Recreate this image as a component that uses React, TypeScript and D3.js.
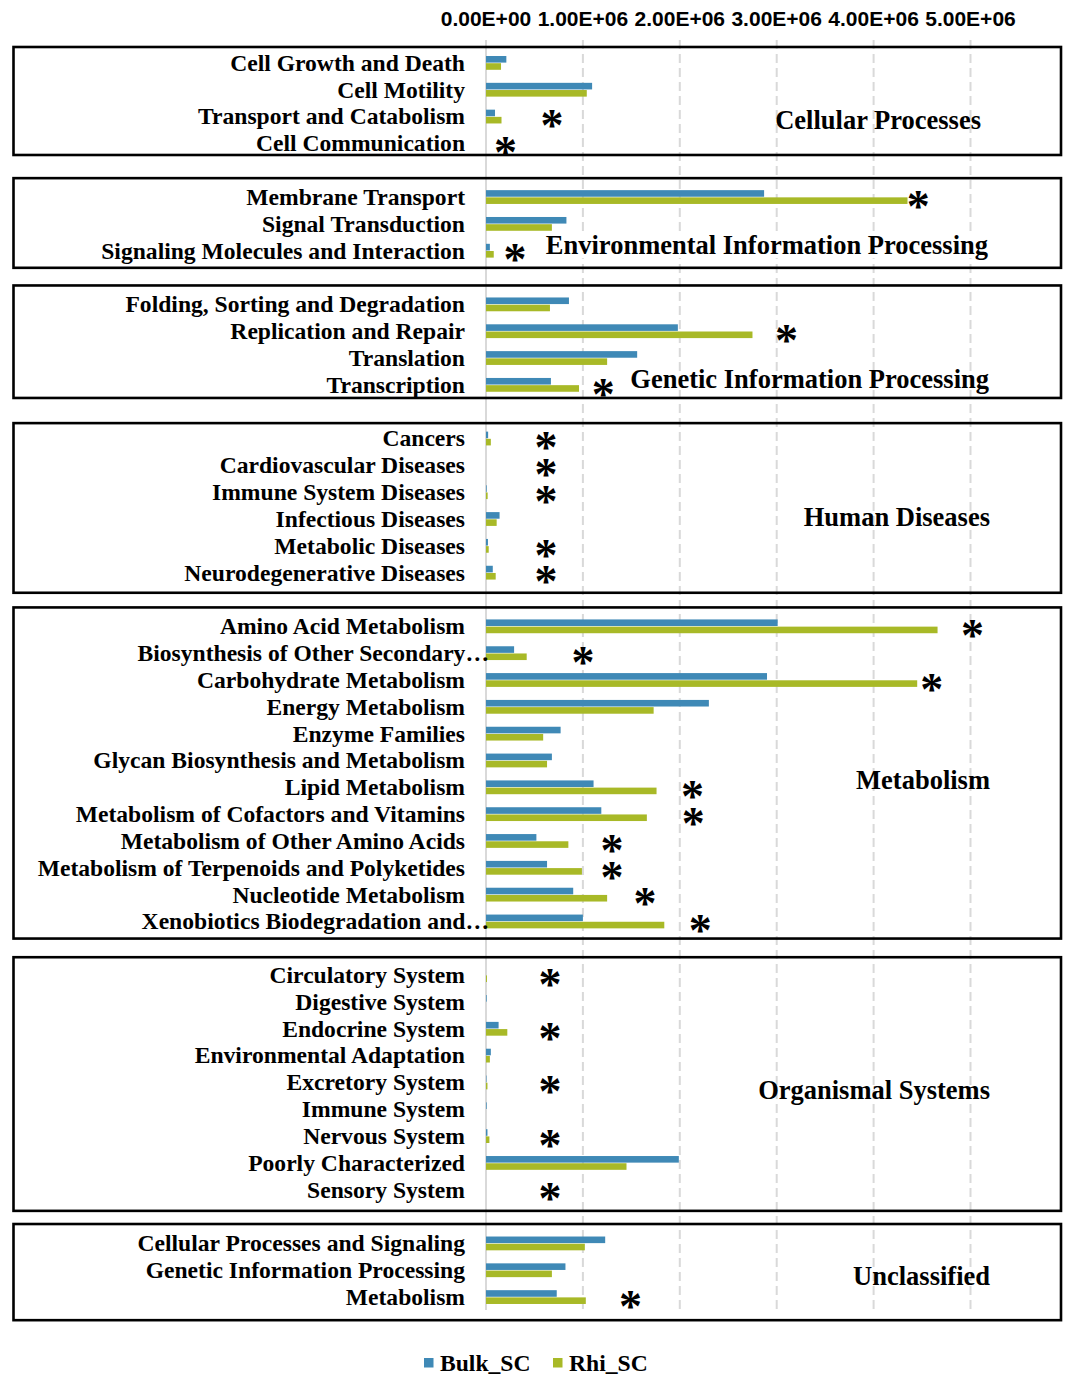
import React, { useEffect, useRef } from "react";
import * as d3 from "d3";

// Pathway groups and their categories (top to bottom)
const groupNames = [
  "Cellular Processes",
  "Environmental Information Processing",
  "Genetic Information Processing",
  "Human Diseases",
  "Metabolism",
  "Organismal Systems",
  "Unclassified",
];

const cellularCats = ["Cell Growth and Death", "Cell Motility", "Transport and Catabolism", "Cell Communication"];
const environmentalCats = ["Membrane Transport", "Signal Transduction", "Signaling Molecules and Interaction"];
const geneticCats = ["Folding, Sorting and Degradation", "Replication and Repair", "Translation", "Transcription"];
const humanCats = [
  "Cancers",
  "Cardiovascular Diseases",
  "Immune System Diseases",
  "Infectious Diseases",
  "Metabolic Diseases",
  "Neurodegenerative Diseases",
];
const metabolismCats = [
  "Amino Acid Metabolism",
  "Biosynthesis of Other Secondary Metabolites",
  "Carbohydrate Metabolism",
  "Energy Metabolism",
  "Enzyme Families",
  "Glycan Biosynthesis and Metabolism",
  "Lipid Metabolism",
  "Metabolism of Cofactors and Vitamins",
  "Metabolism of Other Amino Acids",
  "Metabolism of Terpenoids and Polyketides",
  "Nucleotide Metabolism",
  "Xenobiotics Biodegradation and Metabolism",
];
const organismalCats = [
  "Circulatory System",
  "Digestive System",
  "Endocrine System",
  "Environmental Adaptation",
  "Excretory System",
  "Immune System",
  "Nervous System",
  "Poorly Characterized",
  "Sensory System",
];
const unclassifiedCats = ["Cellular Processes and Signaling", "Genetic Information Processing", "Metabolism"];

const groupCats = [cellularCats, environmentalCats, geneticCats, humanCats, metabolismCats, organismalCats, unclassifiedCats];

// Series values (gene abundance), same order as the categories above
const bulkValues = [
  [210000, 1095000, 93000, 0],
  [2870000, 830000, 40000],
  [856000, 1980000, 1560000, 670000],
  [22000, 0, 7000, 140000, 20000, 70000],
  [3010000, 290000, 2900000, 2300000, 770000, 680000, 1110000, 1190000, 520000, 630000, 900000, 1000000],
  [0, 7000, 130000, 50000, 5000, 7000, 15000, 1990000, 0],
  [1230000, 820000, 730000],
];
const rhiValues = [
  [155000, 1040000, 160000, 0],
  [4350000, 680000, 80000],
  [660000, 2750000, 1250000, 960000],
  [50000, 0, 17000, 110000, 28000, 100000],
  [4660000, 420000, 4450000, 1730000, 590000, 630000, 1760000, 1660000, 850000, 990000, 1250000, 1840000],
  [10000, 0, 220000, 40000, 15000, 0, 35000, 1450000, 0],
  [1020000, 680000, 1030000],
];

// Significance marks: [group index, category, x position in axis units]
const starMarks: [number, string, number][] = [
  [0, "Transport and Catabolism", 680000],
  [0, "Cell Communication", 200000],
  [1, "Membrane Transport", 4460000],
  [1, "Signaling Molecules and Interaction", 300000],
  [2, "Replication and Repair", 3100000],
  [2, "Transcription", 1210000],
  [3, "Cancers", 620000],
  [3, "Cardiovascular Diseases", 620000],
  [3, "Immune System Diseases", 620000],
  [3, "Metabolic Diseases", 620000],
  [3, "Neurodegenerative Diseases", 620000],
  [4, "Amino Acid Metabolism", 5020000],
  [4, "Biosynthesis of Other Secondary Metabolites", 1000000],
  [4, "Carbohydrate Metabolism", 4600000],
  [4, "Lipid Metabolism", 2130000],
  [4, "Metabolism of Cofactors and Vitamins", 2140000],
  [4, "Metabolism of Other Amino Acids", 1300000],
  [4, "Metabolism of Terpenoids and Polyketides", 1300000],
  [4, "Nucleotide Metabolism", 1640000],
  [4, "Xenobiotics Biodegradation and Metabolism", 2210000],
  [5, "Circulatory System", 660000],
  [5, "Endocrine System", 660000],
  [5, "Excretory System", 660000],
  [5, "Nervous System", 660000],
  [5, "Sensory System", 660000],
  [6, "Metabolism", 1490000],
];

const xTicks = [0, 1000000, 2000000, 3000000, 4000000, 5000000];
const seriesNames = ["Bulk_SC", "Rhi_SC"];

const BLUE = "#3f89b6";
const GREEN = "#a8b927";
const SERIF = "'Liberation Serif', 'Times New Roman', serif";

const App: React.FC = () => {
  const ref = useRef<SVGSVGElement>(null);

  useEffect(() => {
    if (!ref.current) return;
    const svg = d3.select(ref.current);
    svg.selectAll("*").remove();

    // one slot per category, one blank slot between groups
    const slots: string[] = [];
    groupCats.forEach((cats, gi) => {
      cats.forEach((c) => slots.push(`${gi}|${c}`));
      if (gi < groupCats.length - 1) slots.push(`gap${gi}`);
    });

    const step = 26.83;
    const y = d3
      .scaleBand<string>()
      .domain(slots)
      .range([63 - step / 2, 63 - step / 2 + step * slots.length])
      .padding(0);
    const yc = (k: string) => (y(k) ?? 0) + y.bandwidth() / 2;

    const x = d3.scaleLinear().domain([0, 5000000]).range([486, 970.5]);

    const gridTop = 40;
    const gridBottom = 1310;

    // gridlines
    svg
      .append("g")
      .selectAll("line")
      .data(xTicks)
      .enter()
      .append("line")
      .attr("x1", (d) => x(d))
      .attr("x2", (d) => x(d))
      .attr("y1", gridTop)
      .attr("y2", gridBottom)
      .attr("stroke", "#d9d9d9")
      .attr("stroke-width", 2)
      .attr("stroke-dasharray", (d) => (d === 0 ? null : "9,5"));

    // tick labels at top
    const fmt = (d: number) => {
      const [m, e] = d3.format(".2e")(d).split("e");
      const sign = e[0] === "-" ? "-" : "+";
      const digits = e.replace(/[+-]/, "").padStart(2, "0");
      return `${m}E${sign}${digits}`;
    };
    svg
      .append("g")
      .selectAll("text")
      .data(xTicks)
      .enter()
      .append("text")
      .attr("x", (d) => x(d))
      .attr("y", 19)
      .attr("dy", "0.35em")
      .attr("text-anchor", "middle")
      .style("font-family", "'Liberation Sans', Arial, sans-serif")
      .style("font-weight", "bold")
      .style("font-size", "21px")
      .text(fmt);

    // bars
    const bars = svg.append("g");
    groupCats.forEach((cats, gi) => {
      cats.forEach((c, ci) => {
        const cy = yc(`${gi}|${c}`);
        bars
          .append("rect")
          .attr("x", x(0))
          .attr("y", cy - 7)
          .attr("width", x(bulkValues[gi][ci]) - x(0))
          .attr("height", 6.6)
          .attr("fill", BLUE);
        bars
          .append("rect")
          .attr("x", x(0))
          .attr("y", cy + 0.2)
          .attr("width", x(rhiValues[gi][ci]) - x(0))
          .attr("height", 6.6)
          .attr("fill", GREEN);
      });
    });

    // category labels (Excel-style truncation with ellipsis)
    const labels = svg.append("g");
    const maxLabelW = 438;
    groupCats.forEach((cats, gi) => {
      cats.forEach((c) => {
        const t = labels
          .append("text")
          .attr("x", 465)
          .attr("y", yc(`${gi}|${c}`))
          .attr("dy", "0.33em")
          .attr("text-anchor", "end")
          .style("font-family", SERIF)
          .style("font-weight", "bold")
          .style("font-size", "23.6px")
          .text(c);
        const node = t.node() as SVGTextElement;
        if (node.getComputedTextLength() > maxLabelW) {
          const words = c.split(" ");
          let n = words.length - 1;
          t.text(words.slice(0, n).join(" ") + "…");
          while (n > 1 && node.getComputedTextLength() > maxLabelW) {
            n -= 1;
            t.text(words.slice(0, n).join(" ") + "…");
          }
          t.attr("x", 489);
        }
      });
    });

    // stars
    const starSize = 46;
    svg
      .append("g")
      .selectAll("text")
      .data(starMarks)
      .enter()
      .append("text")
      .attr("x", (d) => x(d[2]))
      .attr("y", (d) => yc(`${d[0]}|${d[1]}`) + 3 + starSize * 0.47)
      .attr("text-anchor", "middle")
      .style("font-family", SERIF)
      .style("font-weight", "bold")
      .style("font-size", `${starSize}px`)
      .text("*");

    // group boxes + labels
    const padTop = [16, 19, 19, 15.5, 19, 18, 19.5];
    const padBottom = [11.5, 17, 13, 20, 17, 21, 23];
    const labelRow = [2.12, 1.8, 2.8, 2.93, 5.74, 4.29, 1.23];
    const labelRight = [981, 988, 989, 990, 990, 990, 990];
    const boxes = svg.append("g");
    groupCats.forEach((cats, gi) => {
      const first = yc(`${gi}|${cats[0]}`);
      const last = yc(`${gi}|${cats[cats.length - 1]}`);
      const top = first - padTop[gi];
      const bottom = last + padBottom[gi];
      boxes
        .append("rect")
        .attr("x", 13.5)
        .attr("y", top)
        .attr("width", 1061 - 13.5)
        .attr("height", bottom - top)
        .attr("fill", "none")
        .attr("stroke", "#000")
        .attr("stroke-width", 2.6);

      const gt = boxes
        .append("text")
        .attr("x", labelRight[gi])
        .attr("y", first + labelRow[gi] * step)
        .attr("dy", "0.33em")
        .attr("text-anchor", "end")
        .style("font-family", SERIF)
        .style("font-weight", "bold")
        .style("font-size", "26.5px")
        .text(groupNames[gi]);
      if (gi === 1) {
        const bb = (gt.node() as SVGTextElement).getBBox();
        boxes
          .insert("rect", () => gt.node())
          .attr("x", bb.x - 2)
          .attr("y", bb.y + 3)
          .attr("width", bb.width + 4)
          .attr("height", bb.height - 5)
          .attr("fill", "#fff");
      }
    });

    // legend
    const legend = svg.append("g");
    const legendX = [424, 553];
    seriesNames.forEach((s, i) => {
      legend
        .append("rect")
        .attr("x", legendX[i])
        .attr("y", 1358)
        .attr("width", 9.5)
        .attr("height", 9.5)
        .attr("fill", i === 0 ? BLUE : GREEN);
      legend
        .append("text")
        .attr("x", legendX[i] + 16)
        .attr("y", 1363)
        .attr("dy", "0.33em")
        .style("font-family", SERIF)
        .style("font-weight", "bold")
        .style("font-size", "23.6px")
        .text(s);
    });
  }, []);

  return (
    <div style={{ position: "absolute", left: 0, top: 0, background: "#fff" }}>
      <svg ref={ref} width={1070} height={1376} style={{ display: "block" }} />
    </div>
  );
};

export default App;
